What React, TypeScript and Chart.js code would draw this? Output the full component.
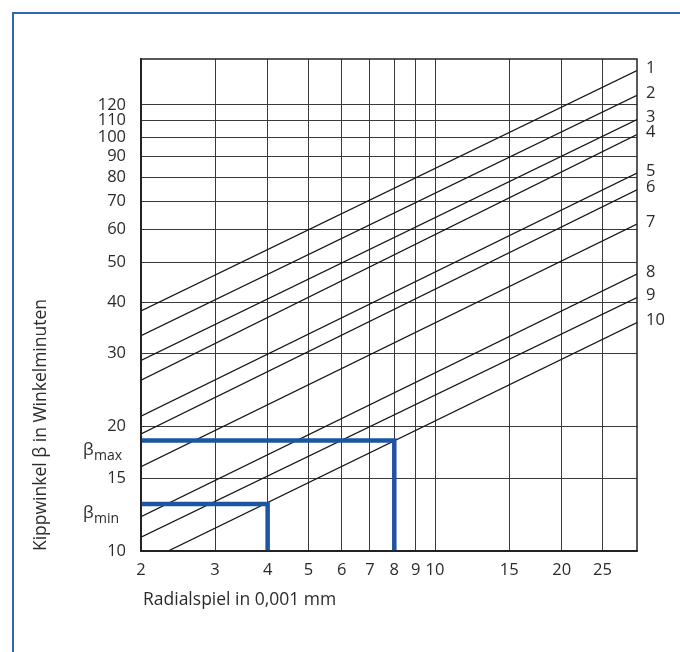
import React, { useEffect, useRef } from "react";
import { Chart, registerables } from "chart.js";

Chart.register(...registerables);

// Axis ranges and tick values
const xMin = 2;
const xMax = 30.2;
const yMin = 10;
const yMax = 155;
const xTicks = [2, 3, 4, 5, 6, 7, 8, 9, 10, 15, 20, 25];
const yTicks = [10, 15, 20, 30, 40, 50, 60, 70, 80, 90, 100, 110, 120];

// Curves 1..10 (straight lines in log-log), start and end points
const curveLabels = ["1", "2", "3", "4", "5", "6", "7", "8", "9", "10"];
const curveStartX = [2, 2, 2, 2, 2, 2, 2, 2, 2, 2.32];
const curveStartY = [38.1, 33.2, 28.9, 25.9, 21.2, 19.2, 16.0, 12.1, 10.8, 10];
const curveEndX = [30.2, 30.2, 30.2, 30.2, 30.2, 30.2, 30.2, 30.2, 30.2, 30.2];
const curveEndY = [145.3, 126.6, 110.6, 101.7, 82.1, 74.8, 61.8, 46.8, 41.05, 35.7];

// Example readings (blue)
const betaLabels = ["max", "min"];
const betaY = [18.5, 13.0];
const betaX = [8, 4];

const TEXT = "#2b2b2b";
const FONT = "'Open Sans', 'DejaVu Sans', sans-serif";
const BLUE = "#1d55a3";

export default function App() {
  const ref = useRef<HTMLCanvasElement | null>(null);

  useEffect(() => {
    if (!ref.current) return;

    const curveSets = curveLabels.map((lab, i) => ({
      label: lab,
      data: [
        { x: curveStartX[i], y: curveStartY[i] },
        { x: curveEndX[i], y: curveEndY[i] },
      ],
      showLine: true,
      borderColor: "#151515",
      borderWidth: 1.3,
      pointRadius: 0,
      order: 2,
    }));

    const betaSets = betaLabels.map((lab, i) => ({
      label: "beta " + lab,
      data: [
        { x: xMin, y: betaY[i] },
        { x: betaX[i], y: betaY[i] },
        { x: betaX[i], y: yMin },
      ],
      showLine: true,
      borderColor: BLUE,
      borderWidth: 4.5,
      borderJoinStyle: "miter" as const,
      pointRadius: 0,
      order: 1,
    }));

    const decor = {
      id: "decor",
      afterDraw(chart: any) {
        const { ctx, chartArea, scales } = chart;
        const ys = scales.y;
        ctx.save();
        // chart frame
        ctx.strokeStyle = "#222";
        ctx.lineWidth = 1.5;
        ctx.strokeRect(chartArea.left, chartArea.top, chartArea.right - chartArea.left, chartArea.bottom - chartArea.top);

        // outer blue frame
        ctx.strokeStyle = "#2f66b8";
        ctx.lineWidth = 2;
        ctx.beginPath();
        ctx.moveTo(13, 660);
        ctx.lineTo(13, 13);
        ctx.lineTo(690, 13);
        ctx.stroke();

        ctx.fillStyle = TEXT;
        // curve numbers at right
        ctx.font = `16.5px ${FONT}`;
        ctx.textAlign = "left";
        ctx.textBaseline = "middle";
        curveLabels.forEach((lab, i) => {
          const yp = ys.getPixelForValue(curveEndY[i]) - 2;
          ctx.fillText(lab, chartArea.right + 9, yp);
        });

        // beta labels
        betaLabels.forEach((lab, i) => {
          const yp = ys.getPixelForValue(betaY[i]);
          ctx.textBaseline = "alphabetic";
          ctx.font = `17px ${FONT}`;
          ctx.fillText("β", 83, yp + 14);
          ctx.font = `14px ${FONT}`;
          ctx.fillText(lab, 94, yp + 19);
        });

        // x axis title
        ctx.font = `17.5px ${FONT}`;
        ctx.textAlign = "left";
        ctx.textBaseline = "middle";
        ctx.fillText("Radialspiel in 0,001 mm", 143, 600);

        // y axis title
        ctx.translate(41, 425);
        ctx.rotate(-Math.PI / 2);
        ctx.textAlign = "center";
        ctx.fillText("Kippwinkel β in Winkelminuten", 0, 0);
        ctx.restore();
      },
    };

    const chart = new Chart(ref.current, {
      type: "scatter",
      data: { datasets: [...betaSets, ...curveSets] as any },
      options: {
        animation: false,
        responsive: false,
        devicePixelRatio: 1,
        layout: { padding: { left: 0, right: 43, top: 59, bottom: 0 } },
        plugins: { legend: { display: false }, tooltip: { enabled: false } },
        scales: {
          x: {
            type: "logarithmic",
            min: xMin,
            max: xMax,
            afterBuildTicks: (s: any) => {
              s.ticks = xTicks.map((v) => ({ value: v }));
            },
            afterFit: (s: any) => {
              s.height = 101;
            },
            grid: { color: "#3a3a3a", lineWidth: 1, drawTicks: false },
            border: { display: true, color: "#222", width: 1.5 },
            ticks: {
              autoSkip: false,
              maxRotation: 0,
              padding: 9,
              color: TEXT,
              font: { family: FONT, size: 16.5 },
              callback: (v: any) => String(v),
            },
          },
          y: {
            type: "logarithmic",
            min: yMin,
            max: yMax,
            afterBuildTicks: (s: any) => {
              s.ticks = yTicks.map((v) => ({ value: v }));
            },
            afterFit: (s: any) => {
              s.width = 141;
            },
            grid: { color: "#3a3a3a", lineWidth: 1, drawTicks: false },
            border: { display: true, color: "#222", width: 1.5 },
            ticks: {
              autoSkip: false,
              padding: 15,
              color: TEXT,
              font: { family: FONT, size: 16.5 },
              callback: (v: any) => String(v),
            },
          },
        },
      },
      plugins: [decor],
    });

    return () => chart.destroy();
  }, []);

  return (
    <div style={{ position: "absolute", left: 0, top: 0, width: 680, height: 652, background: "#fff" }}>
      <canvas ref={ref} width={680} height={652} style={{ display: "block" }} />
    </div>
  );
}
